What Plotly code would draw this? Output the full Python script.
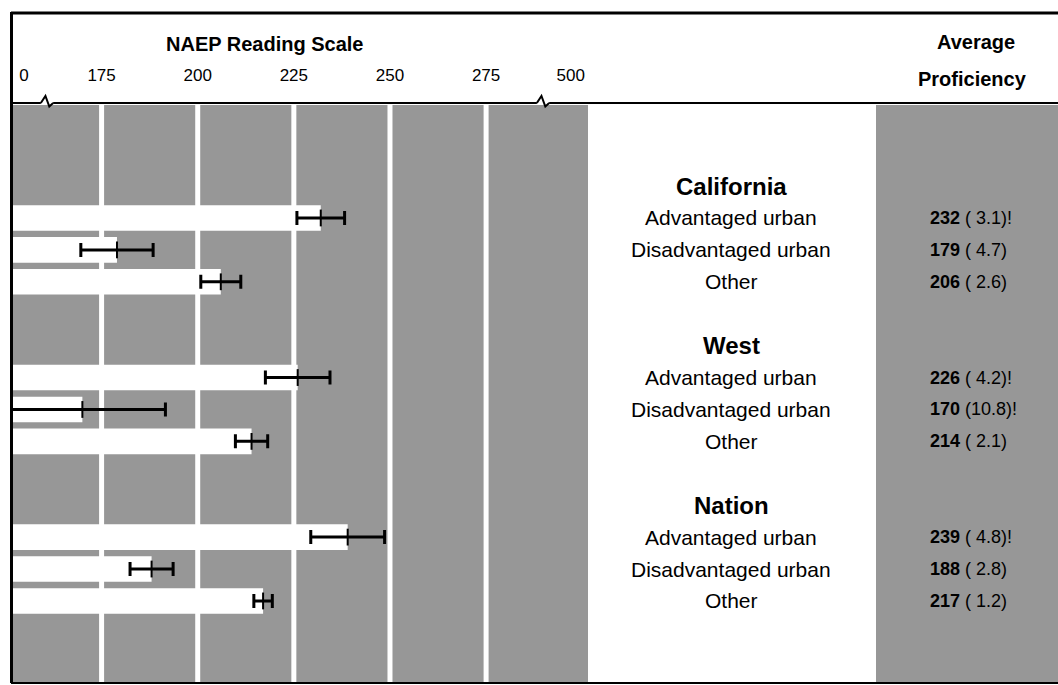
import plotly.graph_objects as go

# ---- data ----
groups = ["California", "West", "Nation"]
subgroups = ["Advantaged urban", "Disadvantaged urban", "Other"]
avg = [232, 179, 206, 226, 170, 214, 239, 188, 217]
se = [3.1, 4.7, 2.6, 4.2, 10.8, 2.1, 4.8, 2.8, 1.2]
flag = [True, False, False, True, True, False, True, False, False]
scale_ticks = [175, 200, 225, 250, 275]
tick_text = ["0", "175", "200", "225", "250", "275", "500"]
break_vals = [160.8, 289.8]          # axis-break positions (scale units)
tick_vals = [154.8, 175, 200, 225, 250, 275, 297.0]

# ---- layout constants ----
W, H = 1058, 685
ML, MT, MB = 13, 105, 3
PW, PH = W - ML, H - MT - MB
GRAY = "#979797"
FONT = "Liberation Sans, Arial, sans-serif"

def px_x(px):
    return (px - ML) / PW

def px_y(py):
    return (H - MB - py) / PH

slots = []
for g in range(len(groups)):
    for i in range(len(subgroups)):
        slots.append(5 * g + 1 + i)
title_slots = [5 * g for g in range(len(groups))]

fig = go.Figure()

fig.add_trace(go.Bar(
    x=avg, y=slots, orientation="h", width=0.8,
    marker=dict(color="white", line=dict(width=0)),
    error_x=dict(type="data", array=[2 * s for s in se], color="black",
                 thickness=3, width=7),
    hoverinfo="skip", showlegend=False,
))
fig.add_trace(go.Scatter(
    x=avg, y=slots, mode="markers",
    marker=dict(symbol="line-ns", size=12, line=dict(width=2, color="black")),
    hoverinfo="skip", showlegend=False,
))

shapes = []
# right shaded column
shapes.append(dict(type="rect", xref="paper", yref="paper", x0=px_x(876), x1=1,
                   y0=0, y1=1, fillcolor=GRAY, line=dict(width=0), layer="below"))
# white grid bands
for v in scale_ticks:
    shapes.append(dict(type="line", xref="x", yref="paper", x0=v, x1=v, y0=0, y1=1,
                       line=dict(color="white", width=5), layer="below"))
# borders
shapes.append(dict(type="line", xref="paper", yref="paper", x0=px_x(11), x1=1,
                   y0=px_y(13), y1=px_y(13), line=dict(color="black", width=3)))
shapes.append(dict(type="line", xref="paper", yref="paper", x0=px_x(11.5), x1=px_x(11.5),
                   y0=px_y(683), y1=px_y(12), line=dict(color="black", width=3)))
shapes.append(dict(type="line", xref="paper", yref="paper", x0=px_x(11), x1=1,
                   y0=px_y(683), y1=px_y(683), line=dict(color="black", width=2)))
shapes.append(dict(type="line", xref="paper", yref="paper", x0=px_x(11), x1=1,
                   y0=px_y(103), y1=px_y(103), line=dict(color="black", width=2)))
# axis-break zigzags
yb = px_y(103)
dy = 7 / PH
for b in break_vals:
    d = 1.6
    shapes.append(dict(type="line", xref="x", yref="paper", x0=b - d, x1=b + d,
                       y0=yb, y1=yb, line=dict(color="white", width=3)))
    path = (f"M {b-d},{yb} L {b-0.4},{yb+dy} L {b+0.6},{yb-dy*0.5} L {b+d},{yb}")
    shapes.append(dict(type="path", xref="x", yref="paper", path=path,
                       line=dict(color="black", width=2)))

ann = []
ann.append(dict(text="<b>NAEP Reading Scale</b>", xref="paper", yref="paper",
                x=px_x(264), y=px_y(44), showarrow=False, xanchor="center",
                yanchor="middle", font=dict(size=20, family=FONT, color="black")))
ann.append(dict(text="<b>Average</b>", xref="paper", yref="paper",
                x=px_x(976), y=px_y(42), showarrow=False, xanchor="center",
                yanchor="middle", font=dict(size=20, family=FONT, color="black")))
ann.append(dict(text="<b>Proficiency</b>", xref="paper", yref="paper",
                x=px_x(972), y=px_y(79), showarrow=False, xanchor="center",
                yanchor="middle", font=dict(size=20, family=FONT, color="black")))
for g, s in zip(groups, title_slots):
    ann.append(dict(text=f"<b>{g}</b>", xref="paper", yref="y", x=px_x(731), y=s,
                    showarrow=False, xanchor="center", yanchor="middle",
                    font=dict(size=24, family=FONT, color="black")))
for k, s in enumerate(slots):
    ann.append(dict(text=subgroups[k % 3], xref="paper", yref="y", x=px_x(731), y=s,
                    showarrow=False, xanchor="center", yanchor="middle",
                    font=dict(size=21, family=FONT, color="black")))
    txt = f"<b>{avg[k]}</b> ({se[k]:4.1f})" + ("!" if flag[k] else "")
    txt = txt.replace(" ", "&nbsp;")
    ann.append(dict(text=txt, xref="paper", yref="y", x=px_x(928), y=s,
                    xanchor="left", yanchor="middle", showarrow=False,
                    font=dict(size=18, family=FONT, color="black")))

fig.update_layout(
    width=W, height=H,
    margin=dict(l=ML, r=0, t=MT, b=MB, pad=0),
    paper_bgcolor="white", plot_bgcolor=GRAY,
    shapes=shapes, annotations=ann, showlegend=False,
    xaxis=dict(domain=[0, px_x(588)], range=[151.96, 301.5], side="top",
               tickvals=tick_vals, ticktext=tick_text, showgrid=False,
               zeroline=False, showline=False, ticks="", ticklabelstandoff=20,
               tickfont=dict(size=17, family=FONT, color="black"), fixedrange=True),
    yaxis=dict(range=[15.54, -2.54], visible=False, fixedrange=True),
)

fig.write_html("out.html", config={"displayModeBar": False},
               post_script="document.body.style.margin='0';document.body.style.overflow='hidden';")
